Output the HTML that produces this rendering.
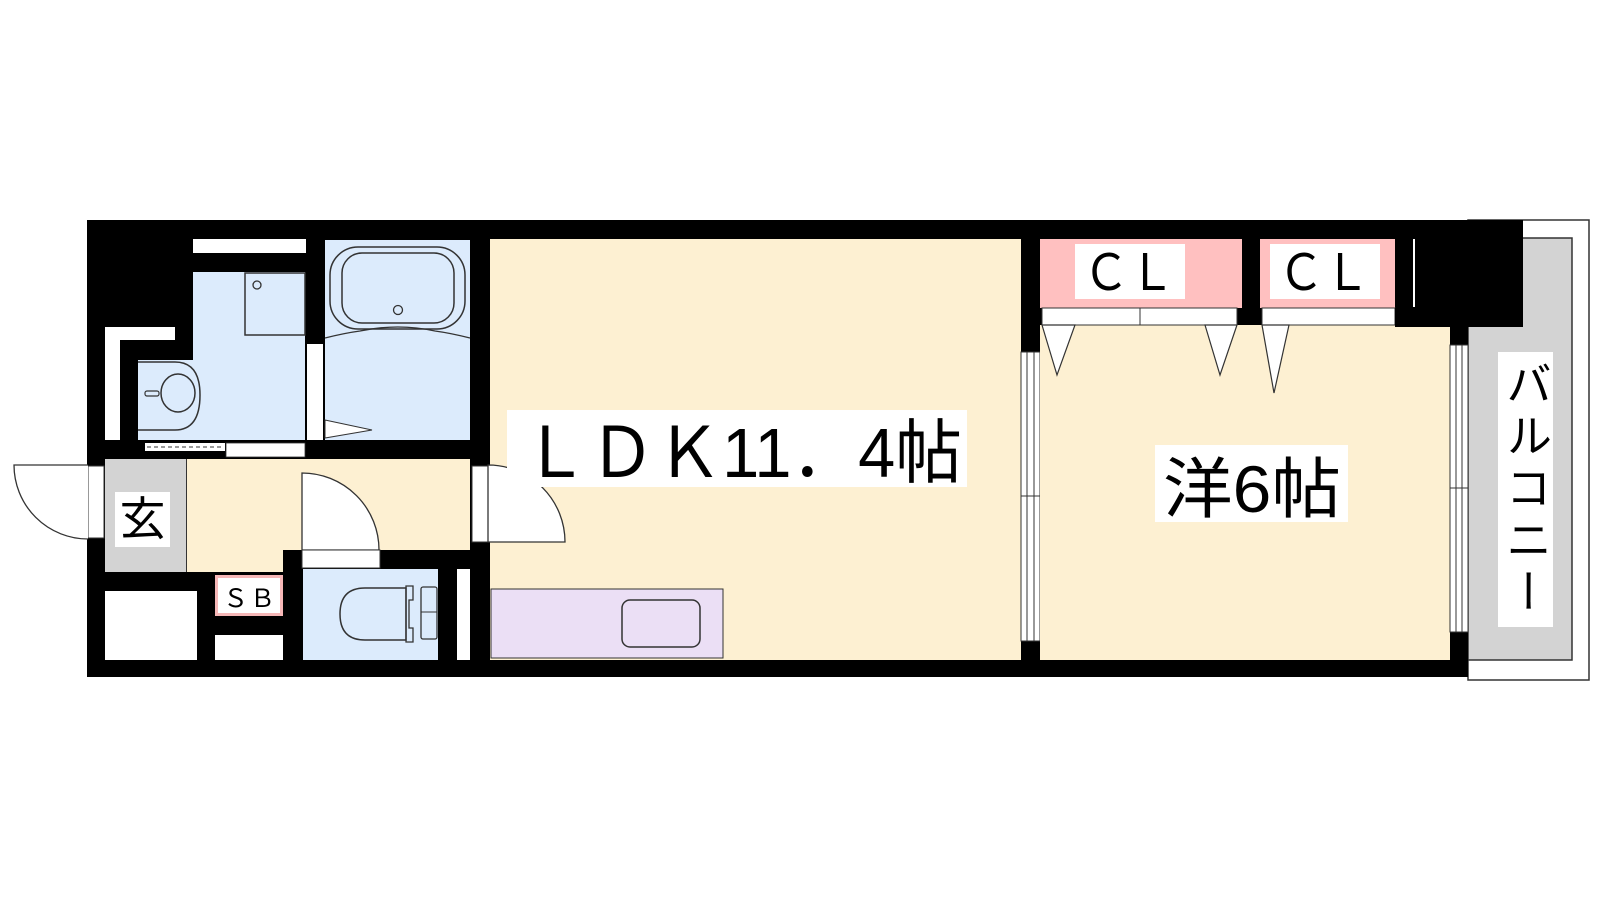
<!DOCTYPE html>
<html><head><meta charset="utf-8"><style>
html,body{margin:0;padding:0;background:#fff;width:1600px;height:900px;overflow:hidden}
svg{position:absolute;left:0;top:0}
.t{font-family:"Liberation Sans","Noto Sans CJK JP",sans-serif}
#bal{position:absolute;left:1498px;top:352px;width:55px;height:275px;background:#fff;writing-mode:vertical-rl;font-family:"Liberation Sans","Noto Sans CJK JP",sans-serif;font-size:46px;line-height:55px;text-align:center;letter-spacing:6px;color:#000}
</style></head><body>
<svg width="1600" height="900" viewBox="0 0 1600 900" xmlns="http://www.w3.org/2000/svg">
<!-- balcony -->
<rect x="1468" y="220" width="121" height="460" fill="#fff" stroke="#333" stroke-width="1.5"/>
<rect x="1468" y="238" width="104" height="422" fill="#d3d3d3" stroke="#333" stroke-width="1.5"/>
<!-- black base -->
<rect x="87" y="220" width="1381" height="457" fill="#000"/>
<rect x="1380" y="220" width="143" height="107" fill="#000"/>
<line x1="1414" y1="239" x2="1414" y2="307" stroke="#fff" stroke-width="2"/>

<!-- washroom -->
<rect x="193" y="239" width="113" height="14" fill="#fff"/>
<rect x="105" y="327" width="15" height="113" fill="#fff"/>
<rect x="105" y="327" width="70" height="13" fill="#fff"/>
<rect x="193" y="272" width="112" height="168" fill="#dcebfc"/>
<rect x="138" y="360" width="60" height="80" fill="#dcebfc"/>
<rect x="245" y="273" width="60" height="62" fill="#dcebfc" stroke="#333" stroke-width="1.5"/>
<circle cx="257" cy="285" r="4" fill="none" stroke="#333" stroke-width="1.3"/>
<path d="M138 362 H175 Q200 362 200 395 Q200 430 175 430 H138" fill="none" stroke="#333" stroke-width="1.5"/>
<ellipse cx="178" cy="393" rx="17" ry="19" fill="none" stroke="#333" stroke-width="1.5"/>
<rect x="145" y="391" width="14" height="5" rx="2" fill="none" stroke="#333" stroke-width="1.2"/>
<rect x="145" y="443" width="80" height="8" fill="#fff"/>
<line x1="147" y1="447" x2="224" y2="447" stroke="#333" stroke-width="1" stroke-dasharray="4,3"/>
<rect x="226" y="443" width="79" height="14" fill="#fff" stroke="#333" stroke-width="0.8"/>
<!-- bath -->
<rect x="325" y="240" width="145" height="200" fill="#dcebfc"/>
<rect x="307" y="344" width="16" height="96" fill="#fff"/>
<rect x="330" y="247" width="135" height="82" rx="28" fill="none" stroke="#333" stroke-width="1.5"/>
<rect x="342" y="253" width="112" height="70" rx="20" fill="none" stroke="#333" stroke-width="1.5"/>
<circle cx="398" cy="310" r="4.5" fill="none" stroke="#333" stroke-width="1.3"/>
<path d="M325 338 Q345 333 360 331 Q398 323 435 331 Q450 333 470 338" fill="none" stroke="#333" stroke-width="1.3"/>
<path d="M325 420 L372 430 L325 438 Z" fill="#fff" stroke="#333" stroke-width="1"/>

<!-- genkan / hall -->
<rect x="105" y="459" width="81" height="113" fill="#d3d3d3"/>
<line x1="186.5" y1="459" x2="186.5" y2="572" stroke="#333" stroke-width="1"/>
<rect x="187" y="459" width="283" height="91" fill="#fdf0d2"/>
<rect x="187" y="550" width="96" height="22" fill="#fdf0d2"/>
<rect x="115" y="492" width="55" height="55" fill="#fff"/>
<text x="142.5" y="535" class="t" font-size="46" text-anchor="middle">玄</text>
<!-- entry door -->
<rect x="88" y="466" width="16" height="72" fill="#fff" stroke="#333" stroke-width="1"/>
<path d="M88 465 H14 A74 74 0 0 0 88 539" fill="#fff" stroke="#333" stroke-width="1.3"/>
<!-- toilet door -->
<path d="M302 550 V473 A77 77 0 0 1 379 550 Z" fill="#fff" stroke="#333" stroke-width="1.3"/>
<rect x="302" y="550" width="78" height="18" fill="#fff" stroke="#333" stroke-width="1"/>
<!-- toilet -->
<rect x="303" y="569" width="135" height="91" fill="#dcebfc"/>
<path d="M406 588 H365 Q340 588 340 614 Q340 640 365 640 H406 Z" fill="none" stroke="#333" stroke-width="1.5"/>
<path d="M406 586 H413 V600 H409 V628 H413 V642 H406 Z" fill="none" stroke="#333" stroke-width="1.3"/>
<rect x="421" y="587" width="16" height="52" rx="2" fill="none" stroke="#333" stroke-width="1.3"/>
<line x1="421" y1="612" x2="437" y2="612" stroke="#333" stroke-width="1"/>
<rect x="457" y="569" width="13" height="91" fill="#fff"/>
<!-- bottom left -->
<rect x="105" y="591" width="92" height="69" fill="#fff"/>
<rect x="215" y="635" width="68" height="25" fill="#fff"/>
<rect x="216.5" y="576.5" width="65" height="38" fill="#fff" stroke="#f6b7b7" stroke-width="3"/>
<text x="249" y="607" class="t" font-size="25" text-anchor="middle" textLength="52">ＳＢ</text>

<!-- LDK -->
<rect x="490" y="239" width="531" height="421" fill="#fdf0d2"/>
<rect x="472" y="466" width="16" height="76" fill="#fff" stroke="#333" stroke-width="1"/>
<path d="M488 542 V465 A77 77 0 0 1 565 542 Z" fill="#fff" stroke="#333" stroke-width="1.3"/>
<rect x="491" y="589" width="232" height="69" fill="#ebdff5" stroke="#333" stroke-width="1"/>
<rect x="622" y="600" width="78" height="47" rx="8" fill="none" stroke="#333" stroke-width="1.5"/>
<rect x="507" y="410" width="460" height="77" fill="#fff"/>
<text x="522" y="477" class="t" font-size="70" textLength="440" lengthAdjust="spacingAndGlyphs">ＬＤＫ11．4帖</text>
<!-- window LDK / room -->
<rect x="1021" y="352" width="19" height="289" fill="#fff" stroke="#333" stroke-width="1"/>
<line x1="1027" y1="352" x2="1027" y2="641" stroke="#333" stroke-width="1"/>
<line x1="1034" y1="352" x2="1034" y2="641" stroke="#333" stroke-width="1"/>
<line x1="1021" y1="496" x2="1040" y2="496" stroke="#333" stroke-width="1"/>

<!-- closets -->
<rect x="1040" y="239" width="202" height="69" fill="#ffc0c0"/>
<rect x="1260" y="239" width="135" height="69" fill="#ffc0c0"/>
<rect x="1075" y="244" width="110" height="55" fill="#fff"/>
<rect x="1270" y="244" width="110" height="55" fill="#fff"/>
<text x="1083" y="290" class="t" font-size="50" textLength="92" lengthAdjust="spacingAndGlyphs">ＣＬ</text>
<text x="1278" y="290" class="t" font-size="50" textLength="92" lengthAdjust="spacingAndGlyphs">ＣＬ</text>
<!-- room -->
<rect x="1040" y="325" width="410" height="335" fill="#fdf0d2"/>
<rect x="1042" y="308" width="98" height="17" fill="#fff" stroke="#333" stroke-width="1"/>
<rect x="1140" y="308" width="97" height="17" fill="#fff" stroke="#333" stroke-width="1"/>
<rect x="1262" y="308" width="133" height="17" fill="#fff" stroke="#333" stroke-width="1"/>
<rect x="1395" y="308" width="55" height="19" fill="#000"/>
<path d="M1042 325 L1075 325 L1057 375 Z" fill="#fff" stroke="#333" stroke-width="1.2"/>
<path d="M1205 325 L1237 325 L1220 375 Z" fill="#fff" stroke="#333" stroke-width="1.2"/>
<path d="M1262 325 L1289 325 L1274 393 Z" fill="#fff" stroke="#333" stroke-width="1.2"/>
<rect x="1155" y="445" width="193" height="77" fill="#fff"/>
<text x="1163" y="512" class="t" font-size="66" textLength="178" lengthAdjust="spacingAndGlyphs">洋6帖</text>
<!-- right window -->
<rect x="1450" y="345" width="18" height="287" fill="#fff" stroke="#333" stroke-width="1"/>
<line x1="1456" y1="345" x2="1456" y2="632" stroke="#333" stroke-width="1"/>
<line x1="1462" y1="345" x2="1462" y2="632" stroke="#333" stroke-width="1"/>
<line x1="1450" y1="488" x2="1468" y2="488" stroke="#333" stroke-width="1"/>
</svg>
<div id="bal">バルコニー</div>
</body></html>
